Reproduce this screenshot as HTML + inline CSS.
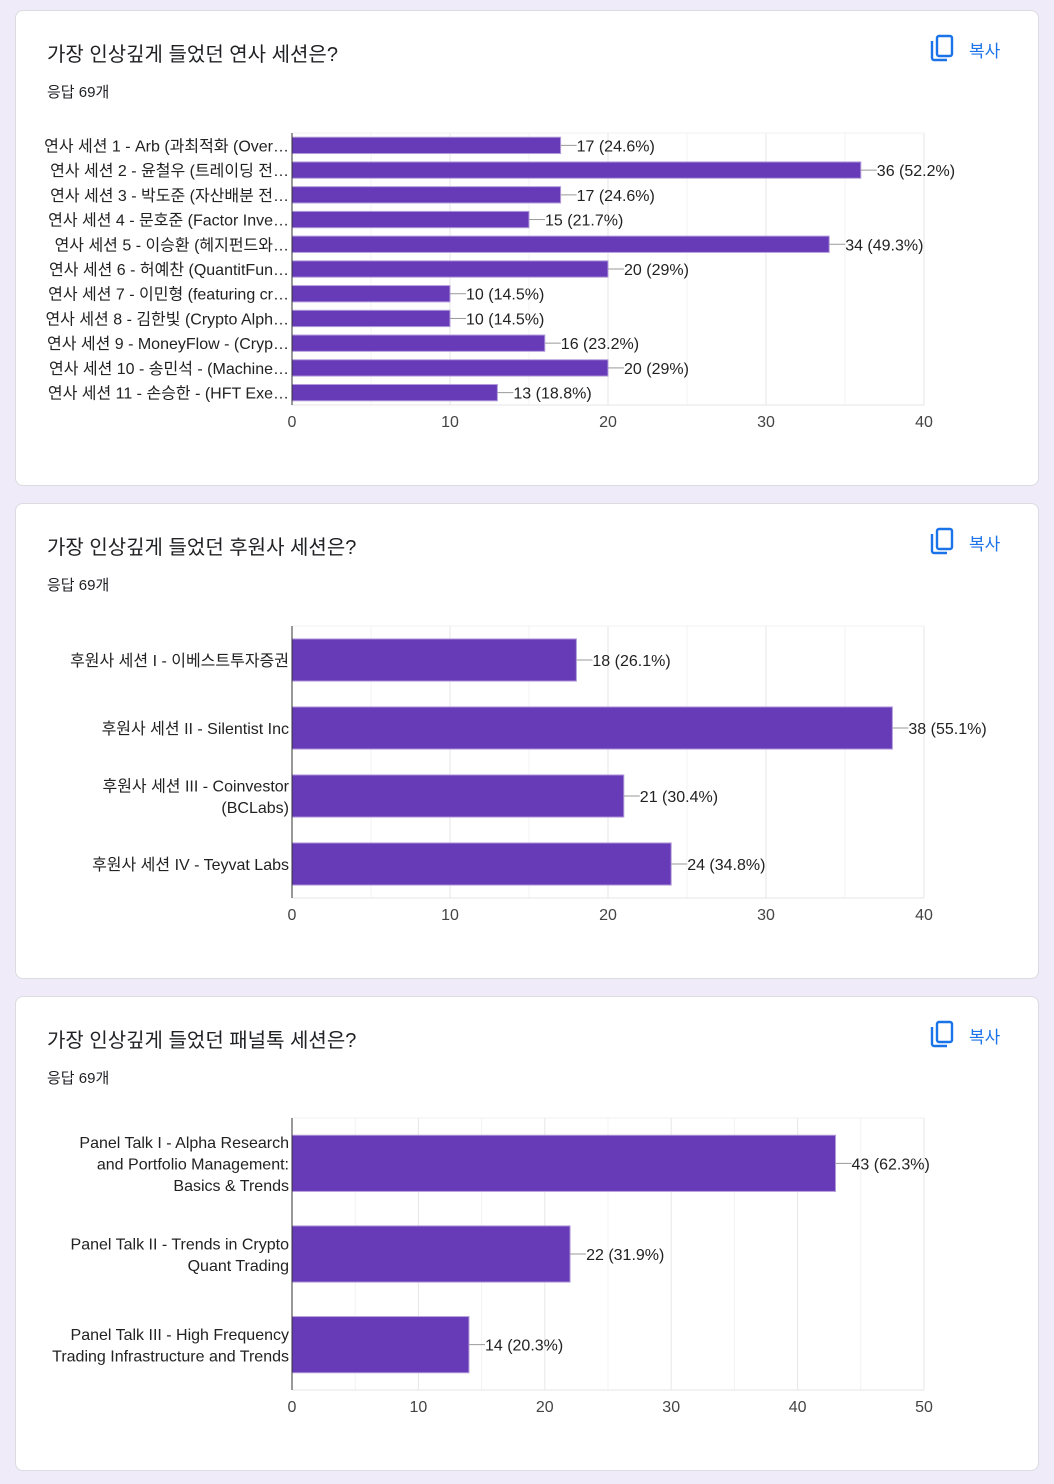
<!DOCTYPE html>
<html><head><meta charset="utf-8">
<style>
body{margin:0;width:1054px;height:1484px;background:#f0ebf8;font-family:"Liberation Sans","Noto Sans CJK KR",sans-serif;position:relative;overflow:hidden}
.card{position:absolute;left:15px;width:1024px;background:#fff;border:1px solid #dadce0;border-radius:8px;box-sizing:border-box}
.title{position:absolute;left:31px;top:27px;font-size:20px;color:#202124}
.resp{position:absolute;left:31px;top:70px;font-size:15px;color:#202124}
.copy{position:absolute;left:914px;top:23px;width:90px;height:30px;color:#1a73e8;font-size:17px}
.copy span{position:absolute;left:39px;top:3px}
svg{position:absolute;left:0;top:0}
</style></head><body>
<div class="card" style="top:10px;height:476px">
<div class="title">가장 인상깊게 들었던 연사 세션은?</div>
<div class="resp">응답 69개</div>
<div class="copy"><svg width="26" height="28" viewBox="0 0 26 28"><rect x="7" y="2" width="15" height="20" rx="2" fill="none" stroke="#1a73e8" stroke-width="2.4"/><path d="M2 7v17a2 2 0 0 0 2 2h13" fill="none" stroke="#1a73e8" stroke-width="2.4"/></svg><span>복사</span></div>
<svg id="c1" width="1024" height="476"></svg>
</div>
<div class="card" style="top:503px;height:476px">
<div class="title">가장 인상깊게 들었던 후원사 세션은?</div>
<div class="resp">응답 69개</div>
<div class="copy"><svg width="26" height="28" viewBox="0 0 26 28"><rect x="7" y="2" width="15" height="20" rx="2" fill="none" stroke="#1a73e8" stroke-width="2.4"/><path d="M2 7v17a2 2 0 0 0 2 2h13" fill="none" stroke="#1a73e8" stroke-width="2.4"/></svg><span>복사</span></div>
<svg id="c2" width="1024" height="476"></svg>
</div>
<div class="card" style="top:996px;height:475px">
<div class="title">가장 인상깊게 들었던 패널톡 세션은?</div>
<div class="resp">응답 69개</div>
<div class="copy"><svg width="26" height="28" viewBox="0 0 26 28"><rect x="7" y="2" width="15" height="20" rx="2" fill="none" stroke="#1a73e8" stroke-width="2.4"/><path d="M2 7v17a2 2 0 0 0 2 2h13" fill="none" stroke="#1a73e8" stroke-width="2.4"/></svg><span>복사</span></div>
<svg id="c3" width="1024" height="475"></svg>
</div>
<script>
const speakerLabels=[["연사 세션 1 - Arb (과최적화 (Over…"],["연사 세션 2 - 윤철우 (트레이딩 전…"],["연사 세션 3 - 박도준 (자산배분 전…"],["연사 세션 4 - 문호준 (Factor Inve…"],["연사 세션 5 - 이승환 (헤지펀드와…"],["연사 세션 6 - 허예찬 (QuantitFun…"],["연사 세션 7 - 이민형 (featuring cr…"],["연사 세션 8 - 김한빛 (Crypto Alph…"],["연사 세션 9 - MoneyFlow - (Cryp…"],["연사 세션 10 - 송민석 - (Machine…"],["연사 세션 11 - 손승한 - (HFT Exe…"]];
const speakerValues=[17,36,17,15,34,20,10,10,16,20,13];
const speakerPct=["24.6%","52.2%","24.6%","21.7%","49.3%","29%","14.5%","14.5%","23.2%","29%","18.8%"];
const speakerTicks=[0,10,20,30,40];
const sponsorLabels=[["후원사 세션 I - 이베스트투자증권"],["후원사 세션 II - Silentist Inc"],["후원사 세션 III - Coinvestor","(BCLabs)"],["후원사 세션 IV - Teyvat Labs"]];
const sponsorValues=[18,38,21,24];
const sponsorPct=["26.1%","55.1%","30.4%","34.8%"];
const sponsorTicks=[0,10,20,30,40];
const panelLabels=[["Panel Talk I - Alpha Research","and Portfolio Management:","Basics & Trends"],["Panel Talk II - Trends in Crypto","Quant Trading"],["Panel Talk III - High Frequency","Trading Infrastructure and Trends"]];
const panelValues=[43,22,14];
const panelPct=["62.3%","31.9%","20.3%"];
const panelTicks=[0,10,20,30,40,50];
const NS="http://www.w3.org/2000/svg";
function mk(svg,tag,a){const e=document.createElementNS(NS,tag);for(const k in a)e.setAttribute(k,a[k]);svg.appendChild(e);return e;}
function draw(id,labels,values,pct,ticks,top,bottom,barFrac,lh){
  const svg=document.getElementById(id);
  const x0=276,x1=908,max=ticks[ticks.length-1];
  const sx=v=>x0+(v/max)*(x1-x0);
  const n=values.length,band=(bottom-top)/n;
  const step=ticks[1]-ticks[0];
  for(let v=step/2;v<=max;v+=step/2){
    const g=mk(svg,'line',{x1:sx(v),x2:sx(v),y1:top,y2:bottom,stroke:(v%step===0)?'#e6e6e6':'#f3f3f3','stroke-width':1});
    
    
  }
  const tl=mk(svg,'line',{x1:x0,x2:x1,y1:top,y2:top,stroke:'#f0f0f0'});
  
  const bl=mk(svg,'line',{x1:x0,x2:x1,y1:bottom,y2:bottom,stroke:'#e6e6e6'});
  
  ticks.forEach(t=>{
    const e=mk(svg,'text',{x:sx(t),y:bottom+22,'text-anchor':'middle','font-size':16,fill:'#444'});
    e.textContent=t;
    
    
  });
  values.forEach((v,i)=>{
    const cy=top+band*(i+0.5),bh=band*barFrac;
    const r=mk(svg,'rect',{x:x0,y:cy-bh/2,width:sx(v)-x0,height:bh,fill:'#673ab7',stroke:'#b39ddb','stroke-width':1});
    
    
    const l=mk(svg,'line',{x1:sx(v),x2:sx(v)+16,y1:cy,y2:cy,stroke:'#999'});
    
    
    const t=mk(svg,'text',{x:sx(v)+16,y:cy+6,'font-size':16,fill:'#222'});
    t.textContent=v+' ('+pct[i]+')';
    
    
    const lines=labels[i];
    lines.forEach((s,j)=>{
      const y=cy+6+(j-(lines.length-1)/2)*lh;
      const c=mk(svg,'text',{x:x0-3,y:y,'text-anchor':'end','font-size':16,fill:'#222'});
      c.textContent=s;
      
      
    });
  });
  const ax=mk(svg,'line',{x1:x0,x2:x0,y1:top,y2:bottom,stroke:'#333','stroke-width':1});
  
  
}
draw('c1',speakerLabels,speakerValues,speakerPct,speakerTicks,122,394,0.66,21);
draw('c2',sponsorLabels,sponsorValues,sponsorPct,sponsorTicks,122,394,0.62,21.5);
draw('c3',panelLabels,panelValues,panelPct,panelTicks,121,393,0.62,21.5);
</script>
</body></html>
